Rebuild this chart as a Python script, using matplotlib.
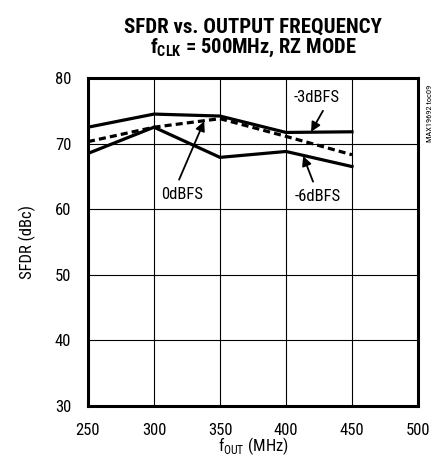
import matplotlib
matplotlib.use("Agg")
import matplotlib.pyplot as plt
from matplotlib import font_manager

names = {f.name for f in font_manager.fontManager.ttflist}
FONT = 'DejaVu Sans'
for cand in ['Roboto Condensed', 'Archivo Narrow', 'Barlow Condensed', 'Liberation Sans Narrow', 'Liberation Sans']:
    if cand in names:
        FONT = cand
        break
plt.rcParams['font.family'] = [FONT, 'DejaVu Sans']
plt.rcParams['mathtext.fontset'] = 'custom'
plt.rcParams['mathtext.rm'] = FONT
plt.rcParams['mathtext.bf'] = FONT + ':bold'

freq = [250, 300, 350, 400, 450]
sfdr_m3 = [72.5, 74.5, 74.2, 71.7, 71.8]
sfdr_0 = [70.3, 72.5, 73.8, 71.1, 68.3]
sfdr_m6 = [68.5, 72.5, 67.9, 68.8, 66.5]
xticks = [250, 300, 350, 400, 450, 500]
yticks = [30, 40, 50, 60, 70, 80]

fig = plt.figure(figsize=(4.41, 4.58), dpi=100)
ax = fig.add_axes([88/441, 1-406/458, 330/441, 328/458])

ax.plot(freq, sfdr_m3, color='black', lw=2.3, solid_joinstyle='miter')
ax.plot(freq, sfdr_0, color='black', lw=2.3, ls=(0, (2.2, 1.3)))
ax.plot(freq, sfdr_m6, color='black', lw=2.3, solid_joinstyle='miter')

ax.set_xlim(250, 500)
ax.set_ylim(30, 80)
ax.set_xticks(xticks)
ax.set_yticks(yticks)
ax.grid(True, color='black', lw=0.8)
ax.set_axisbelow(True)
ax.tick_params(length=0, labelsize=12, pad=12)
for s in ax.spines.values():
    s.set_linewidth(2.2)

arrow = dict(arrowstyle='-|>', color='black', lw=1.3, mutation_scale=14, shrinkA=0, shrinkB=0)
ax.text(423, 77.0, '-3dBFS', fontsize=12, ha='center', va='center')
ax.annotate('', xy=(419, 71.8), xytext=(428, 75.0), arrowprops=arrow)
ax.text(321, 62.3, '0dBFS', fontsize=12, ha='center', va='center')
ax.annotate('', xy=(338, 73.4), xytext=(319, 64.5), arrowprops=arrow)
ax.text(424, 62.0, '-6dBFS', fontsize=12, ha='center', va='center',
        bbox=dict(facecolor='white', edgecolor='none', pad=3))
ax.annotate('', xy=(413, 68.1), xytext=(420.5, 64.2), arrowprops=arrow)

ax.set_ylabel('SFDR (dBc)', fontsize=12, labelpad=14)
fig.text(253/441, 1/458, r'f$_{\mathregular{OUT}}$ (MHz)', ha='center', va='bottom', fontsize=12)

fig.text(253/441, 1-33/458, 'SFDR vs. OUTPUT FREQUENCY', ha='center', va='baseline',
         fontsize=15, fontweight='bold')
fig.text(253/441, 1-53/458, r'f$_{\mathregular{CLK}}$ = 500MHz, RZ MODE', ha='center', va='baseline',
         fontsize=14.8, fontweight='bold')
fig.text(430/441, 1-113/458, 'MAX19692 toc09', rotation=90, ha='center', va='center', fontsize=6)

fig.savefig('out.png', dpi=100)
